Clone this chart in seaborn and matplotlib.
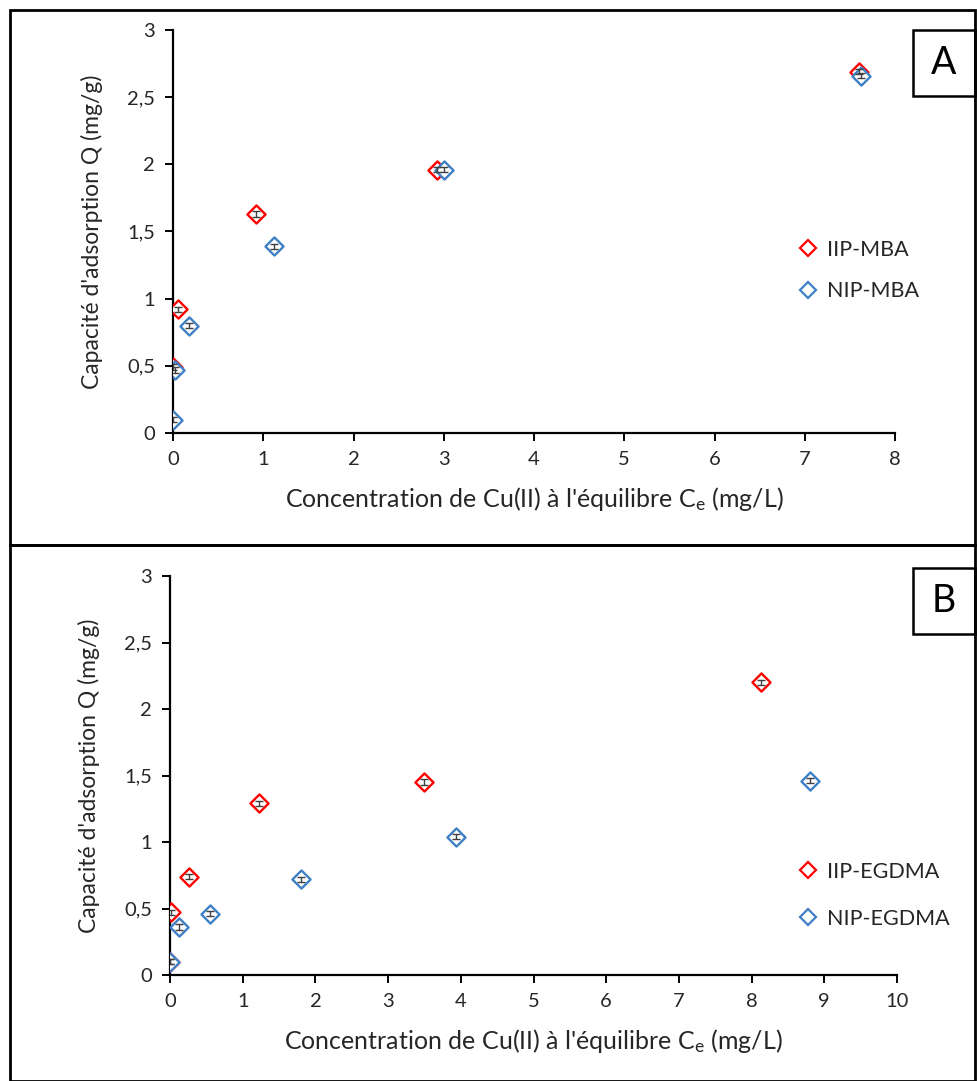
import matplotlib
matplotlib.use("Agg")
import matplotlib.pyplot as plt
import seaborn as sns
import numpy as np
from matplotlib.patches import Rectangle
from matplotlib.lines import Line2D
from matplotlib.ticker import FuncFormatter

# ---- data ----
a_iip_x = [0.0, 0.05, 0.92, 2.93, 7.60]
a_iip_y = [0.49, 0.92, 1.63, 1.96, 2.69]
a_nip_x = [0.0, 0.02, 0.18, 1.12, 3.00, 7.62]
a_nip_y = [0.10, 0.47, 0.80, 1.39, 1.96, 2.66]

b_iip_x = [0.0, 0.02, 0.26, 1.23, 3.50, 8.13]
b_iip_y = [0.10, 0.47, 0.74, 1.29, 1.45, 2.20]
b_nip_x = [0.0, 0.12, 0.55, 1.80, 3.93, 8.80]
b_nip_y = [0.10, 0.36, 0.46, 0.72, 1.04, 1.46]

err = 0.02
labels_a = ["IIP-MBA", "NIP-MBA"]
labels_b = ["IIP-EGDMA", "NIP-EGDMA"]
panel_letters = ["A", "B"]
y_ticks = [0, 0.5, 1, 1.5, 2, 2.5, 3]
x_ticks_a = list(range(0, 9))
x_ticks_b = list(range(0, 11))

RED = "#FF0000"
BLUE = "#3F7FC6"

sns.set_style("white")
plt.rcParams["font.family"] = ["Lato", "DejaVu Sans"]
plt.rcParams["mathtext.default"] = "regular"

W, H = 977, 1081
fig = plt.figure(figsize=(W / 100, H / 100), dpi=100)

def fx(px):
    return px / W

def fy(py):
    return 1 - py / H

axA = fig.add_axes([fx(173), fy(433), fx(895) - fx(173), fy(30) - fy(433)])
axB = fig.add_axes([fx(170), fy(975), fx(897) - fx(170), fy(576) - fy(975)])

ylab = "Capacité d'adsorption Q (mg/g)"
xlab = "Concentration de Cu(II) à l'équilibre C$_e$ (mg/L)"

def comma(v, pos):
    s = f"{v:g}"
    return s.replace(".", ",")

TXT = "#262626"

def draw(ax, series, xmax, xticks, labels, leg_y, leg_sp):
    for (x, y, col, lab) in series:
        ax.errorbar(x, y, yerr=err, fmt="none", ecolor="#404040",
                    elinewidth=1.0, capsize=3, capthick=1.0, zorder=4)
        sns.scatterplot(x=x, y=y, ax=ax, marker="D", s=85,
                        facecolors="white", edgecolor=col, linewidth=1.7,
                        zorder=3)
    ax.set_xlim(0, xmax)
    ax.set_ylim(0, 3)
    ax.set_xticks(xticks)
    ax.set_yticks(y_ticks)
    ax.yaxis.set_major_formatter(FuncFormatter(comma))
    for s in ["top", "right"]:
        ax.spines[s].set_visible(False)
    for s in ["left", "bottom"]:
        ax.spines[s].set_color("black")
        ax.spines[s].set_linewidth(1.6)
    ax.tick_params(axis="both", which="major", direction="out", length=6,
                   width=1.4, color="black", labelsize=14.5, labelcolor=TXT,
                   left=True, bottom=True, pad=7)
    ax.set_ylabel(ylab, fontsize=16.5, color=TXT, labelpad=17)
    ax.set_xlabel(xlab, fontsize=18, color=TXT, labelpad=12)
    ax.set_facecolor("none")
    ax.grid(False)
    handles = [Line2D([], [], marker="D", linestyle="none", markersize=8,
                      markerfacecolor="white", markeredgecolor=c,
                      markeredgewidth=1.6) for c in (RED, BLUE)]
    ax.legend(handles, labels, frameon=False, fontsize=15.5,
              loc="upper left", bbox_to_anchor=(fx(791), fy(leg_y)),
              bbox_transform=fig.transFigure, handlelength=0.8,
              handletextpad=0.45, labelspacing=leg_sp, borderaxespad=0,
              labelcolor=TXT)

draw(axA, [(a_iip_x, a_iip_y, RED, labels_a[0]), (a_nip_x, a_nip_y, BLUE, labels_a[1])],
     8, x_ticks_a, labels_a, 231, 1.0)
draw(axB, [(b_iip_x, b_iip_y, RED, labels_b[0]), (b_nip_x, b_nip_y, BLUE, labels_b[1])],
     10, x_ticks_b, labels_b, 853, 1.25)

# panel frames
for (y0, y1) in [(10, 545), (545, 1081)]:
    fig.patches.append(Rectangle((fx(10), fy(y1)), fx(975) - fx(10), fy(y0) - fy(y1),
                                 transform=fig.transFigure, fill=False,
                                 edgecolor="black", linewidth=2.0, zorder=0))

# letter boxes
for letter, (y0, y1) in zip(panel_letters, [(30, 96), (568, 634)]):
    fig.patches.append(Rectangle((fx(913), fy(y1)), fx(975) - fx(913), fy(y0) - fy(y1),
                                 transform=fig.transFigure, fill=False,
                                 edgecolor="black", linewidth=1.8, zorder=5))
    fig.text(fx(944), fy((y0 + y1) / 2), letter, fontsize=27, ha="center",
             va="center", color="black")

fig.savefig("out.png", dpi=100, facecolor="white")
